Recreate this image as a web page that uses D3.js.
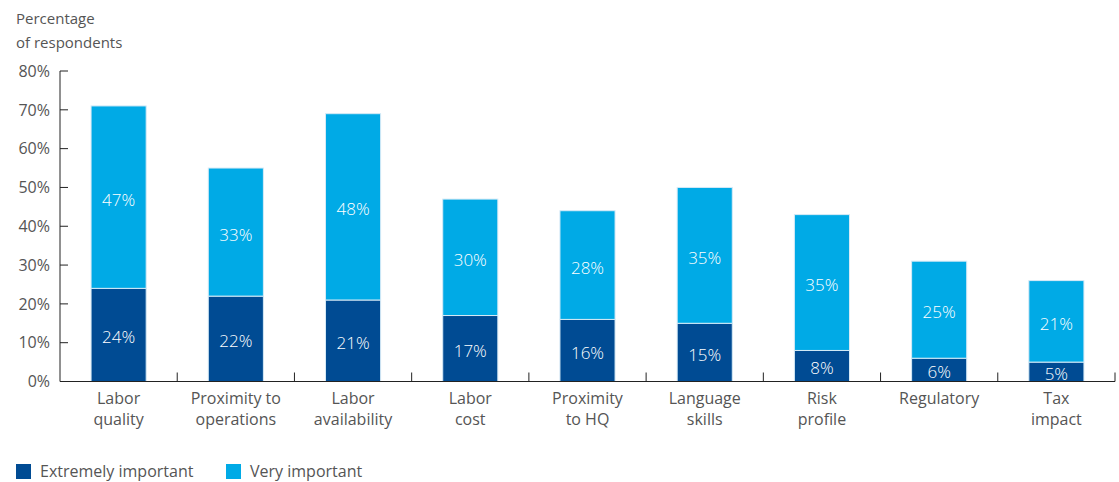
<!DOCTYPE html>
<html>
<head>
<meta charset="utf-8">
<script src="https://cdn.jsdelivr.net/npm/d3@7"></script>
<style>
  html, body { margin: 0; padding: 0; background: #fff; }
  svg text { font-family: "Open Sans", "Noto Sans", sans-serif; }
</style>
</head>
<body>
<svg id="chart" width="1119" height="482"></svg>
<script>
// Location factors, share of respondents (%)
const categories = [
  ["Labor", "quality"],
  ["Proximity to", "operations"],
  ["Labor", "availability"],
  ["Labor", "cost"],
  ["Proximity", "to HQ"],
  ["Language", "skills"],
  ["Risk", "profile"],
  ["Regulatory"],
  ["Tax", "impact"]
];
const extremelyImportant = [24, 22, 21, 17, 16, 15, 8, 6, 5];
const veryImportant = [47, 33, 48, 30, 28, 35, 35, 25, 21];
const yTicks = [0, 10, 20, 30, 40, 50, 60, 70, 80];
const seriesNames = ["Extremely important", "Very important"];
const colors = ["#004b93", "#00aae6"];

(function drawChart() {
  const svg = d3.select("#chart");
  const plotLeft = 60, plotRight = 1115, plotTop = 71, plotBottom = 381.5;
  const textColor = "#555555";

  const x = d3.scaleBand()
    .domain(d3.range(categories.length))
    .range([plotLeft, plotRight])
    .paddingInner(0.53)
    .paddingOuter(0.265);
  const xEdge = d3.scaleLinear().domain([0, categories.length]).range([plotLeft, plotRight]);
  const y = d3.scaleLinear().domain([0, 80]).range([plotBottom, plotTop]);

  // Y axis: line plus inward ticks
  const yAxis = svg.append("g");
  yAxis.append("line")
    .attr("x1", plotLeft).attr("x2", plotLeft)
    .attr("y1", y(80)).attr("y2", y(0))
    .attr("stroke", "#222").attr("stroke-width", 1);
  yAxis.selectAll("line.tick").data(yTicks).join("line")
    .attr("class", "tick")
    .attr("x1", plotLeft).attr("x2", plotLeft + 8)
    .attr("y1", d => y(d)).attr("y2", d => y(d))
    .attr("stroke", "#222").attr("stroke-width", 1);
  yAxis.selectAll("text").data(yTicks).join("text")
    .attr("x", 50).attr("y", d => y(d))
    .attr("dy", "0.36em")
    .attr("text-anchor", "end")
    .attr("fill", textColor)
    .attr("font-size", 16)
    .text(d => d + "%");

  // Y axis title
  svg.append("text")
    .attr("x", 16).attr("y", 24)
    .attr("fill", textColor).attr("font-size", 15)
    .selectAll("tspan").data(["Percentage", "of respondents"]).join("tspan")
    .attr("x", 16).attr("dy", (d, i) => i === 0 ? 0 : 24)
    .text(d => d);

  // Stacked bars
  const stackData = categories.map((c, i) => ({ i, e: extremelyImportant[i], v: veryImportant[i] }));
  const stacked = d3.stack().keys(["e", "v"])(stackData);

  const layers = svg.append("g").selectAll("g").data(stacked).join("g")
    .attr("fill", (d, k) => colors[k]);
  layers.selectAll("rect").data(d => d).join("rect")
    .attr("x", d => x(d.data.i))
    .attr("width", x.bandwidth())
    .attr("y", d => y(d[1]))
    .attr("height", d => y(d[0]) - y(d[1]))
    .attr("stroke", "#d6eaf6").attr("stroke-width", 1);

  // Value labels inside segments
  layers.selectAll("text").data(d => d).join("text")
    .attr("x", d => x(d.data.i) + x.bandwidth() / 2)
    .attr("y", d => y((d[0] + d[1]) / 2))
    .attr("dy", "0.5em")
    .attr("text-anchor", "middle")
    .attr("fill", "#ffffff")
    .attr("font-size", 17)
    .attr("font-weight", 300)
    .text(d => (d[1] - d[0]) + "%");

  // X axis: baseline plus upward ticks at category boundaries
  const xAxis = svg.append("g");
  xAxis.append("line")
    .attr("x1", plotLeft).attr("x2", plotRight)
    .attr("y1", y(0)).attr("y2", y(0))
    .attr("stroke", "#222").attr("stroke-width", 1.2);
  xAxis.selectAll("line.tick").data(d3.range(1, categories.length + 1)).join("line")
    .attr("class", "tick")
    .attr("x1", d => xEdge(d)).attr("x2", d => xEdge(d))
    .attr("y1", y(0)).attr("y2", y(0) - 9)
    .attr("stroke", "#222").attr("stroke-width", 1);

  // Category labels
  xAxis.selectAll("text.cat").data(categories).join("text")
    .attr("class", "cat")
    .attr("text-anchor", "middle")
    .attr("fill", textColor)
    .attr("font-size", 16)
    .attr("y", 404)
    .each(function(lines, i) {
      d3.select(this).selectAll("tspan").data(lines).join("tspan")
        .attr("x", x(i) + x.bandwidth() / 2)
        .attr("dy", (d, j) => j === 0 ? 0 : 21)
        .text(d => d);
    });

  // Legend
  const legendX = [16, 226];
  const legend = svg.append("g").selectAll("g").data(seriesNames).join("g")
    .attr("transform", (d, i) => `translate(${legendX[i]},464)`);
  legend.append("rect")
    .attr("width", 15).attr("height", 15)
    .attr("fill", (d, i) => colors[i]);
  legend.append("text")
    .attr("x", 24).attr("y", 7)
    .attr("dy", "0.36em")
    .attr("fill", textColor).attr("font-size", 16)
    .text(d => d);
})();
</script>
</body>
</html>
